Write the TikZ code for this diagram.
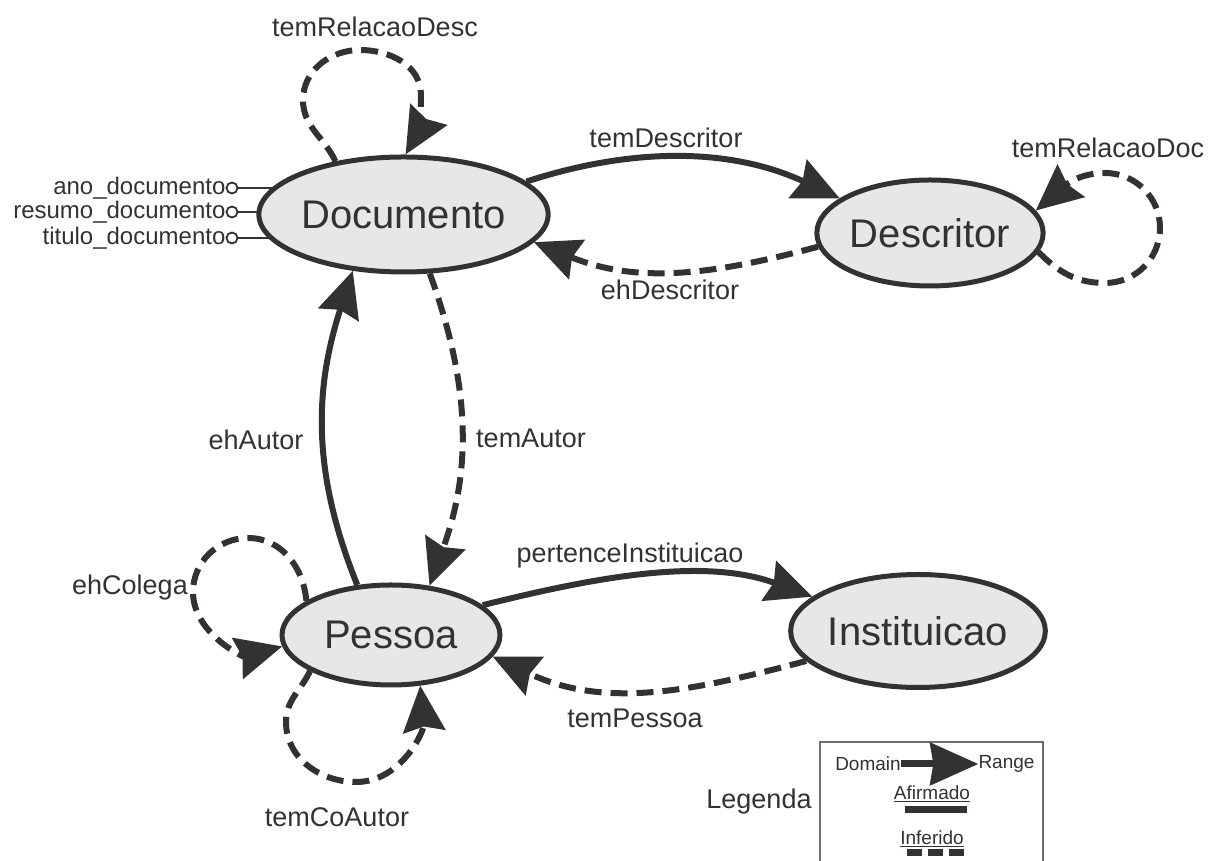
\documentclass[tikz,border=0pt]{standalone}
\usepackage{fontspec}
\setmainfont{Liberation Sans}
\usetikzlibrary{arrows.meta,shapes.geometric,backgrounds}
\definecolor{ink}{HTML}{333231}
\definecolor{nodefill}{HTML}{E6E7E8}
\definecolor{frame}{HTML}{6D6E70}
\begin{document}
\begin{tikzpicture}[x=1pt,y=1pt,
  cls/.style={ellipse,draw=ink,line width=5pt,fill=nodefill,inner sep=0pt,
    text=ink,font=\fontsize{40}{48}\selectfont},
  rel/.style={draw=ink,line width=6pt,-{Stealth[length=46pt,width=42pt,inset=5pt]}},
  inferred/.style={rel,dash pattern=on 17pt off 9pt},
  lbl/.style={text=ink,font=\fontsize{27}{32}\selectfont,inner sep=0pt},
  attr/.style={text=ink,font=\fontsize{24}{28}\selectfont,inner sep=0pt,anchor=east},
  port/.style={circle,draw=ink,line width=1.8pt,fill=white,minimum size=11pt,inner sep=0pt},
  leg/.style={text=ink,font=\fontsize{19}{23}\selectfont,inner sep=0pt},
]
\useasboundingbox (0,0) rectangle (1211,861);

% classes
\node[cls,minimum width=242pt,minimum height=115pt] (doc)  at (403.5,646.5) {Documento};
\node[cls,minimum width=220pt,minimum height=106pt] (desc) at (930,628)     {Descritor};
\node[cls,minimum width=218pt,minimum height=100pt] (pes)  at (391,226)     {Pessoa};
\node[cls,minimum width=240pt,minimum height=113pt] (inst) at (918,230)     {Instituicao};

% datatype properties of Documento
\node[port] (p1) at (232,673) {};
\node[port] (p2) at (232,649) {};
\node[port] (p3) at (232,623) {};
\node[attr] (a1) at (p1.west) {ano\_documento};
\node[attr] (a2) at (p2.west) {resumo\_documento};
\node[attr] (a3) at (p3.west) {titulo\_documento};
\begin{scope}[on background layer]
  \draw[ink,line width=2pt] (p1.east) -- (p1.east -| doc.center);
  \draw[ink,line width=2pt] (p2.east) -- (p2.east -| doc.center);
  \draw[ink,line width=2pt] (p3.east) -- (p3.east -| doc.center);
\end{scope}

% object properties
\draw[rel] (doc.15) to[out=18,in=155,looseness=0.95] (desc.159);
\draw[inferred] (desc.187) to[out=195,in=-22] (doc.-12);
\draw[inferred] (doc.-66) to[out=-70,in=70] (pes.52);
\draw[rel] (pes.124) to[out=112,in=-108] (doc.-132);
\draw[rel] (pes.18) to[out=14,in=160,looseness=0.9] (inst.162);
\draw[inferred] (inst.195) to[out=195,in=-25] (pes.-12);

% reflexive properties
\draw[inferred] (doc.142) to[out=115,in=-90] (303,761) to[out=90,in=180] (360,811)
  to[out=0,in=90] (421,766) to[out=-90,in=60] (doc.88);
\draw[inferred] (desc.-10) to[out=-45,in=180] (1105,578) to[out=0,in=-90] (1160,633)
  to[out=90,in=0] (1105,688) to[out=180,in=40] (desc.12);
\draw[inferred] (pes.158) to[out=95,in=0] (248,323) to[out=180,in=90] (193,269)
  to[out=-90,in=195] (pes.186);
\draw[inferred] (pes.-156) to[out=-115,in=90] (286,139) to[out=-90,in=180] (356,79)
  to[out=0,in=-85] (pes.-60);

% property names
\node[lbl] (l1)  at (375,834) {temRelacaoDesc};
\node[lbl] (l2)  at (666,723) {temDescritor};
\node[lbl] (l3)  at (1108,713) {temRelacaoDoc};
\node[lbl] (l4)  at (670,571) {ehDescritor};
\node[lbl] (l5)  at (256,421) {ehAutor};
\node[lbl] (l6)  at (531,423) {temAutor};
\node[lbl] (l7)  at (630,305) {pertenceInstituicao};
\node[lbl] (l8)  at (130,273) {ehColega};
\node[lbl] (l9)  at (635,143) {temPessoa};
\node[lbl] (l10) at (337,44)  {temCoAutor};

% legend
\node[lbl] (lg) at (759,59) {Legenda};
\draw[frame,line width=1.5pt] (820,-2) -- (820,119) -- (1043,119) -- (1043,-2);
\node[leg] (dom) at (868,97) {Domain};
\node[leg] (rng) at (1006.5,97) {Range};
\draw[ink,line width=7pt,-{Stealth[length=48pt,width=42pt,inset=3pt]}] (dom.east) -- (rng.west);
\node[leg] (afi) at (932,67) {\underline{Afirmado}};
\draw[ink,line width=7pt] (905,51) -- (967,51);
\node[leg] (inf) at (932,22) {\underline{Inferido}};
\draw[ink,line width=7pt,dash pattern=on 15pt off 6pt] (907,8) -- (965,8);
\end{tikzpicture}
\end{document}
